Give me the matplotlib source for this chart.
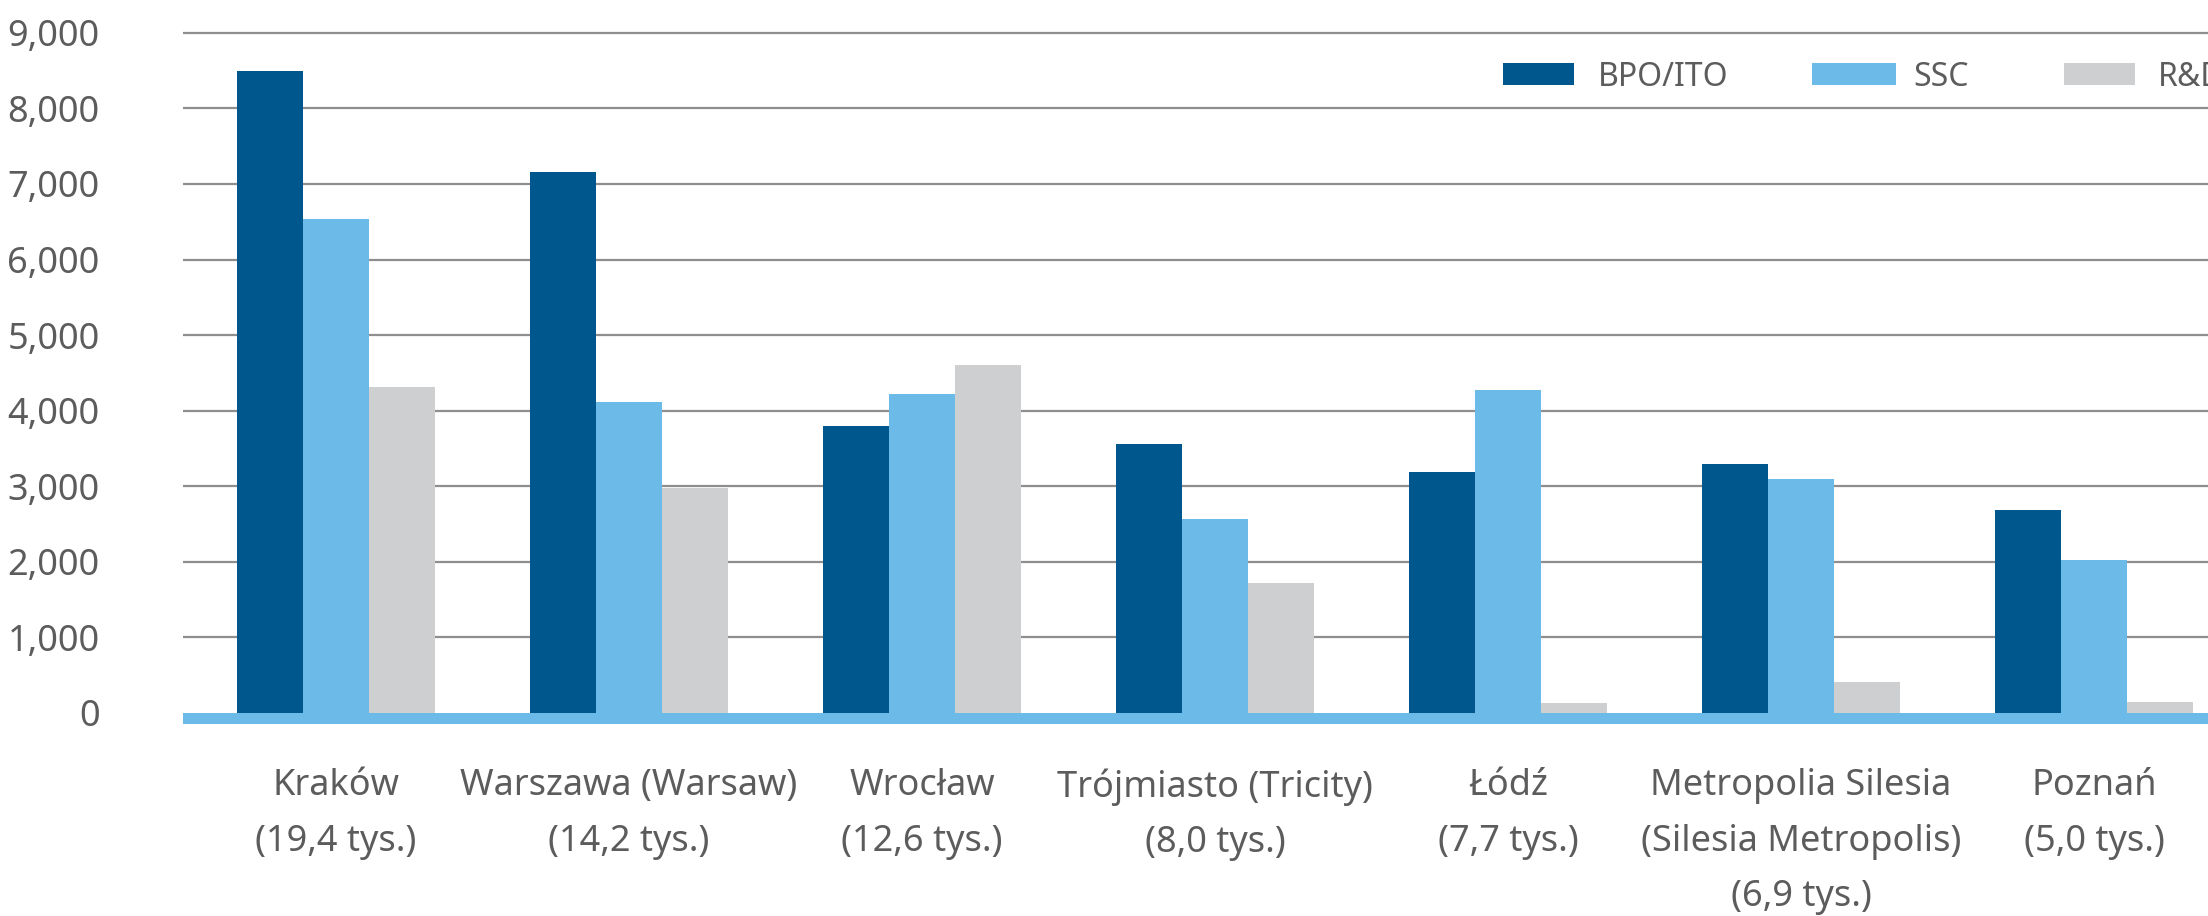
import matplotlib
matplotlib.use("Agg")
import matplotlib.pyplot as plt
from matplotlib.patches import Rectangle
from matplotlib.ticker import FuncFormatter
import numpy as np

cities = [
    "Kraków\n(19,4 tys.)",
    "Warszawa (Warsaw)\n(14,2 tys.)",
    "Wrocław\n(12,6 tys.)",
    "Trójmiasto (Tricity)\n(8,0 tys.)",
    "Łódź\n(7,7 tys.)",
    "Metropolia Silesia\n(Silesia Metropolis)\n(6,9 tys.)",
    "Poznań\n(5,0 tys.)",
]
bpo_ito = [8500, 7160, 3800, 3560, 3190, 3290, 2690]
ssc = [6540, 4110, 4220, 2570, 4270, 3100, 2020]
rnd = [4320, 2980, 4600, 1720, 130, 410, 140]
series_names = ["BPO/ITO", "SSC", "R&D"]
y_ticks = [0, 1000, 2000, 3000, 4000, 5000, 6000, 7000, 8000, 9000]

c_dark = "#00578E"
c_light = "#6CBAE7"
c_grey = "#CDCFD1"
c_text = "#5C5C5C"

plt.rcParams["font.family"] = ["Noto Sans", "DejaVu Sans"]
plt.rcParams["font.stretch"] = "condensed"

W, H, DPI = 2208, 916, 100
fig = plt.figure(figsize=(W / DPI, H / DPI), dpi=DPI)
fig.patch.set_facecolor("white")

ax = fig.add_axes([183 / W, 1 - 724 / H, 1 - 183 / W, (724 - 20) / H])
ax.set_facecolor("white")

x = np.arange(len(cities))
bw = 0.225
for vals, col, off in zip([bpo_ito, ssc, rnd], [c_dark, c_light, c_grey], [-bw, 0, bw]):
    ax.bar(x + off, vals, width=bw, color=col, edgecolor="none", zorder=3)

ax.set_xlim(-0.522, 6.389)
ax.set_ylim(-146, 9170)

# horizontal grid
for t in y_ticks[1:]:
    ax.axhline(t, color="#8E8E8E", linewidth=1.6, zorder=1)
# thick base band under the bars
ax.axhspan(-146, 0, color=c_light, zorder=2, linewidth=0)

for s in ax.spines.values():
    s.set_visible(False)

ax.set_yticks(y_ticks)
ax.yaxis.set_major_formatter(FuncFormatter(lambda v, p: f"{int(v):,}"))
ax.tick_params(axis="y", length=0, pad=60, labelsize=26, labelcolor=c_text)

ax.set_xticks(x)
ax.set_xticklabels(cities, linespacing=1.72)
ax.tick_params(axis="x", length=0, pad=32, labelsize=26, labelcolor=c_text)

# legend row along the top of the plot
leg_patch_x = [1503, 1812, 2064]
leg_patch_w = [71, 84, 71]
leg_text_x = [1598, 1913, 2158]
for px, pw, tx, col, name in zip(leg_patch_x, leg_patch_w, leg_text_x,
                                 [c_dark, c_light, c_grey], series_names):
    fig.patches.append(Rectangle((px / W, 1 - 85 / H), pw / W, 22 / H,
                                 transform=fig.transFigure, facecolor=col,
                                 edgecolor="none"))
    fig.text(tx / W, 1 - 74 / H, name, ha="left", va="center_baseline",
             fontsize=23, color=c_text)

fig.savefig("out.png", dpi=DPI, facecolor="white")
